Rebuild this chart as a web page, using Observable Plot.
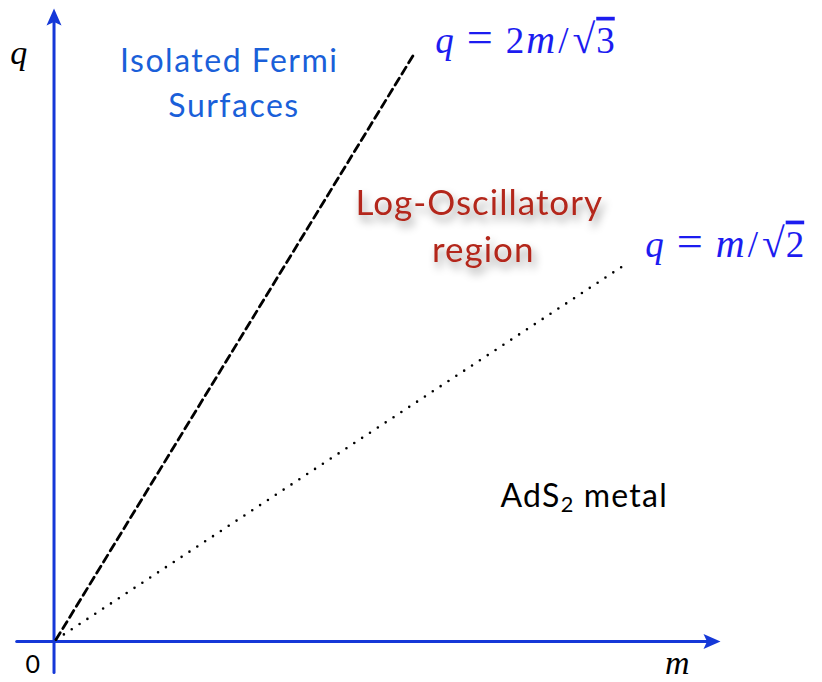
<!DOCTYPE html>
<html><head><meta charset="utf-8">
<script src="https://cdn.jsdelivr.net/npm/d3@7"></script>
<script src="https://cdn.jsdelivr.net/npm/@observablehq/plot@0.6"></script>
<style>body{margin:0;background:#fff}</style>
</head><body><div id="chart"></div>
<script>
// Schematic phase diagram in the (m, q) plane (arbitrary units)
const dashedBoundary = [{m: 0.03, q: 0.03}, {m: 5.39, q: 9.26}];   // q = 2m/√3
const dottedBoundary = [{m: 0.03, q: 0.03}, {m: 8.62, q: 5.99}];   // q = m/√2
const mAxis = [{m: -0.56, q: 0}, {m: 9.85, q: 0}];
const qAxis = [{m: 0, q: -0.49}, {m: 0, q: 9.85}];
const mAxisTip = [{m: 10.0, q: 0}];
const qAxisTip = [{m: 0, q: 10.0}];

const blueLabels = [
  {m: 2.63, q: 9.0, text: "Isolated Fermi"},
  {m: 2.70, q: 8.28, text: "Surfaces"}
];
const redLabels = [
  {m: 6.38, q: 6.73, text: "Log-Oscillatory"},
  {m: 6.44, q: 5.99, text: "region"}
];
const blackLabels = [{m: 6.70, q: 2.12, text: "AdS2 metal"}];
const formulaLabels = [
  {m: 5.72, q: 9.30, text: "q = 2m/√3"},
  {m: 8.87, q: 6.08, text: "q = m/√2"}
];
const axisNames = [
  {m: -0.53, q: 9.12, text: "q"},
  {m: 9.35, q: -0.52, text: "m"}
];
const originLabel = [{m: -0.32, q: -0.505, text: "0"}];

const axisBlue = "#1538d8";
const arrowUp = {draw(ctx) { ctx.moveTo(0, 0); ctx.lineTo(7.5, 17); ctx.lineTo(0, 13.5); ctx.lineTo(-7.5, 17); ctx.closePath(); }};
const arrowRight = {draw(ctx) { ctx.moveTo(0, 0); ctx.lineTo(-17, -7.5); ctx.lineTo(-13.5, 0); ctx.lineTo(-17, 7.5); ctx.closePath(); }};

const sans = "Lato, 'Open Sans', sans-serif";
const serif = "'Liberation Serif', 'DejaVu Serif', serif";

const plot = Plot.plot({
  width: 822, height: 682, margin: 0,
  x: {domain: [-0.803, 11.53], axis: null},
  y: {domain: [-0.648, 10.126], axis: null},
  style: {background: "white", overflow: "visible"},
  marks: [
    Plot.line(mAxis, {x: "m", y: "q", stroke: axisBlue, strokeWidth: 3}),
    Plot.line(qAxis, {x: "m", y: "q", stroke: axisBlue, strokeWidth: 3}),
    Plot.dot(mAxisTip, {x: "m", y: "q", symbol: arrowRight, fill: axisBlue, stroke: null, r: 8}),
    Plot.dot(qAxisTip, {x: "m", y: "q", symbol: arrowUp, fill: axisBlue, stroke: null, r: 8}),
    Plot.line(dashedBoundary, {x: "m", y: "q", stroke: "black", strokeWidth: 2.8, strokeDasharray: "8,5"}),
    Plot.line(dottedBoundary, {x: "m", y: "q", stroke: "black", strokeWidth: 2.6, strokeDasharray: "0,9.4", strokeLinecap: "round"}),
    Plot.text(blueLabels, {x: "m", y: "q", text: "text", fill: "#1a5fd9", fontSize: 32, fontFamily: sans, lineAnchor: "bottom", textAnchor: "middle"}),
    Plot.text(redLabels, {x: "m", y: "q", text: "text", fill: "#b3281a", fontSize: 35, fontFamily: sans, lineAnchor: "bottom", textAnchor: "middle"}),
    Plot.text(blackLabels, {x: "m", y: "q", text: "text", fill: "black", fontSize: 32, fontFamily: sans, lineAnchor: "bottom", textAnchor: "start"}),
    Plot.text(formulaLabels, {x: "m", y: "q", text: "text", fill: "#1c1cf0", fontSize: 37, fontFamily: serif, lineAnchor: "bottom", textAnchor: "start"}),
    Plot.text(axisNames, {x: "m", y: "q", text: "text", fill: "black", fontSize: 34, fontFamily: serif, fontStyle: "italic", lineAnchor: "bottom", textAnchor: "middle"}),
    Plot.text(originLabel, {x: "m", y: "q", text: "text", fill: "black", fontSize: 25, fontFamily: sans, lineAnchor: "bottom", textAnchor: "middle"})
  ]
});
document.getElementById("chart").append(plot);

// typographic refinements: italics for math symbols, radical overline, subscript, shadow
const NS = "http://www.w3.org/2000/svg";
const svg = d3.select(plot);
const defs = svg.append("defs");
const f = defs.append("filter").attr("id", "softshadow").attr("x", "-20%").attr("y", "-30%").attr("width", "150%").attr("height", "180%");
f.append("feDropShadow").attr("dx", 3).attr("dy", 6).attr("stdDeviation", 4.5).attr("flood-color", "#000").attr("flood-opacity", 0.4);

function rebuild(el, parts) {
  el.textContent = "";
  for (const p of parts) {
    const t = document.createElementNS(NS, "tspan");
    t.textContent = p.t;
    for (const [k, v] of Object.entries(p.a || {})) t.setAttribute(k, v);
    el.appendChild(t);
  }
}
svg.selectAll("text").each(function() {
  const s = this.textContent;
  if (s === "q = 2m/√3" || s === "q = m/√2") {
    const coef = s.includes("2m") ? "2" : "";
    const rad = s.endsWith("3") ? "3" : "2";
    const parts = [
      {t: "q", a: {"font-style": "italic"}},
      {t: "=", a: {dx: 13, "font-size": "1.25em"}},
      {t: coef, a: {dx: coef ? 13 : 0}},
      {t: "m", a: {"font-style": "italic", dx: coef ? 2 : 13, "font-size": "1.08em"}},
      {t: "/", a: {dx: 3}},
      {t: "√", a: {dx: 4, "font-size": "1.12em"}},
      {t: rad, a: {dx: 1, "text-decoration": "overline"}}
    ];
    rebuild(this, parts.filter(p => p.t !== ""));
  } else if (s === "AdS2 metal") {
    this.setAttribute("letter-spacing", "1.2");
    rebuild(this, [
      {t: "AdS"},
      {t: "2", a: {"font-size": "0.68em", dy: 5}},
      {t: " metal", a: {dy: -5}}
    ]);
  } else if (s === "Log-Oscillatory" || s === "region") {
    this.setAttribute("letter-spacing", "1");
    this.setAttribute("filter", "url(#softshadow)");
  } else if (s === "Isolated Fermi" || s === "Surfaces") {
    this.setAttribute("letter-spacing", "1.5");
  }
});
</script>
</body></html>
